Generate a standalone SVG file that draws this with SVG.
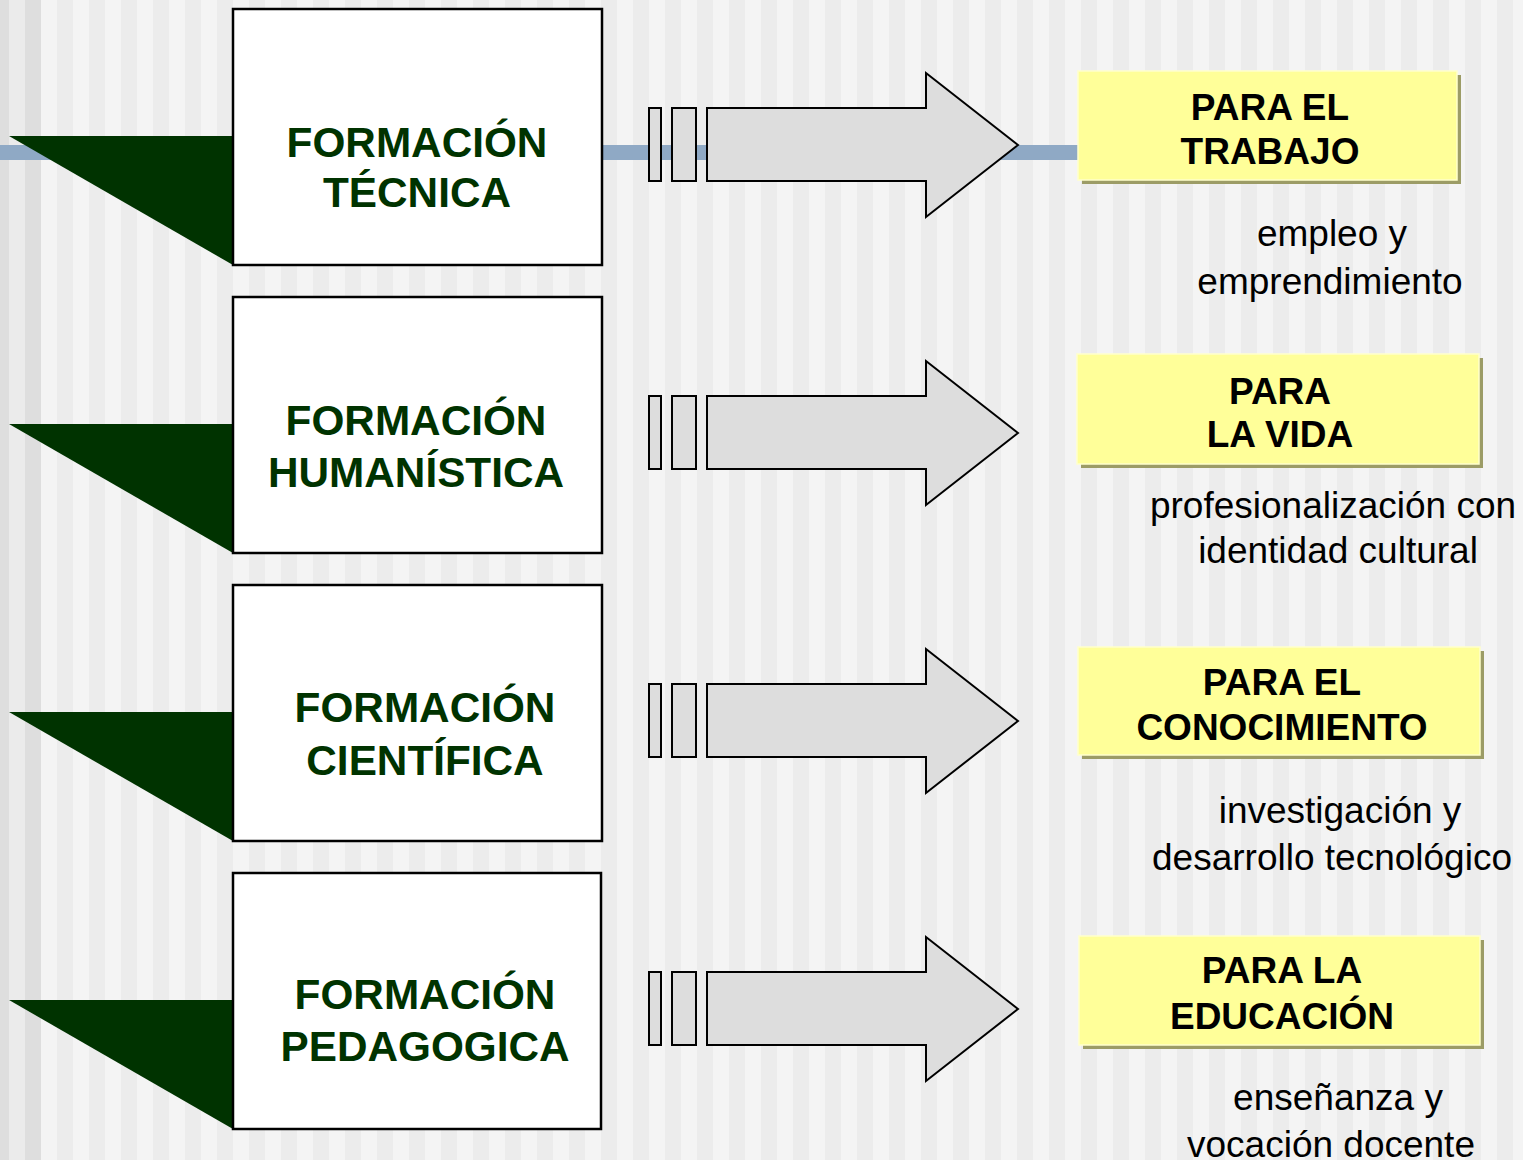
<svg xmlns="http://www.w3.org/2000/svg" width="1523" height="1160" viewBox="0 0 1523 1160">
<defs>
<pattern id="stripes" patternUnits="userSpaceOnUse" x="41" y="0" width="32" height="1160">
<rect x="0" y="0" width="16" height="1160" fill="#f4f4f4"/>
<rect x="16" y="0" width="16" height="1160" fill="#ececec"/>
</pattern>
<style>
.tri{fill:#003300}
.box{fill:#ffffff;stroke:#000000;stroke-width:2.5}
.ftxt{font-family:"Liberation Sans",Arial,sans-serif;font-weight:bold;font-size:42.3px;fill:#003300;text-anchor:middle}
.arr{fill:#dddddd;stroke:#000000;stroke-width:2}
.ybox{fill:#ffff99;stroke:#ffffcc;stroke-width:1.5}
.yshadow{fill:#9c9c66}
.ytxt{font-family:"Liberation Sans",Arial,sans-serif;font-weight:bold;font-size:37px;fill:#000000;text-anchor:middle}
.dtxt{font-family:"Liberation Sans",Arial,sans-serif;font-size:37px;fill:#000000;text-anchor:middle}
</style>
</defs>
<rect x="0" y="0" width="1523" height="1160" fill="url(#stripes)"/>
<rect x="0" y="0" width="9" height="1160" fill="#dedede"/>
<rect x="9" y="0" width="16" height="1160" fill="#ebebeb"/>
<rect x="25" y="0" width="16" height="1160" fill="#dedede"/>

<g id="connectors">
<rect x="0" y="145" width="1080" height="15" fill="#8fa9c5"/>
<g id="arrow1">
<rect class="arr" x="649" y="108" width="12" height="73"/>
<rect class="arr" x="672" y="108" width="24" height="73"/>
<polygon class="arr" points="707,108 926,108 926,73 1018,145 926,217 926,181 707,181"/>
</g>
<g id="arrow2" transform="translate(0,288)">
<rect class="arr" x="649" y="108" width="12" height="73"/>
<rect class="arr" x="672" y="108" width="24" height="73"/>
<polygon class="arr" points="707,108 926,108 926,73 1018,145 926,217 926,181 707,181"/>
</g>
<g id="arrow3" transform="translate(0,576)">
<rect class="arr" x="649" y="108" width="12" height="73"/>
<rect class="arr" x="672" y="108" width="24" height="73"/>
<polygon class="arr" points="707,108 926,108 926,73 1018,145 926,217 926,181 707,181"/>
</g>
<g id="arrow4" transform="translate(0,864)">
<rect class="arr" x="649" y="108" width="12" height="73"/>
<rect class="arr" x="672" y="108" width="24" height="73"/>
<polygon class="arr" points="707,108 926,108 926,73 1018,145 926,217 926,181 707,181"/>
</g>
</g>

<g id="node-tecnica">
<polygon class="tri" points="9,136 233,136 233,265"/>
<rect class="box" x="233" y="9" width="369" height="256"/>
<text class="ftxt" x="417" y="157">FORMACIÓN</text>
<text class="ftxt" x="417" y="207">TÉCNICA</text>
</g>
<g id="node-humanistica">
<polygon class="tri" points="9,424 233,424 233,553"/>
<rect class="box" x="233" y="297" width="369" height="256"/>
<text class="ftxt" x="416" y="435">FORMACIÓN</text>
<text class="ftxt" x="416" y="487">HUMANÍSTICA</text>
</g>
<g id="node-cientifica">
<polygon class="tri" points="9,712 233,712 233,841"/>
<rect class="box" x="233" y="585" width="369" height="256"/>
<text class="ftxt" x="425" y="722">FORMACIÓN</text>
<text class="ftxt" x="425" y="775">CIENTÍFICA</text>
</g>
<g id="node-pedagogica">
<polygon class="tri" points="9,1000 233,1000 233,1129"/>
<rect class="box" x="233" y="873" width="368" height="256"/>
<text class="ftxt" x="425" y="1009">FORMACIÓN</text>
<text class="ftxt" x="425" y="1061">PEDAGOGICA</text>
</g>

<g id="node-trabajo">
<rect class="yshadow" x="1082" y="75" width="379" height="109"/>
<rect class="ybox" x="1078" y="71" width="379" height="109"/>
<text class="ytxt" x="1270" y="120">PARA EL</text>
<text class="ytxt" x="1270" y="164">TRABAJO</text>
<text class="dtxt" x="1332" y="246">empleo y</text>
<text class="dtxt" x="1330" y="294">emprendimiento</text>
</g>
<g id="node-vida">
<rect class="yshadow" x="1081" y="358" width="402" height="110"/>
<rect class="ybox" x="1077" y="354" width="402" height="110"/>
<text class="ytxt" x="1280" y="404">PARA</text>
<text class="ytxt" x="1280" y="447">LA VIDA</text>
<text class="dtxt" x="1333" y="518">profesionalización con</text>
<text class="dtxt" x="1338" y="563">identidad cultural</text>
</g>
<g id="node-conocimiento">
<rect class="yshadow" x="1082" y="651" width="402" height="108"/>
<rect class="ybox" x="1078" y="647" width="402" height="108"/>
<text class="ytxt" x="1282" y="695">PARA EL</text>
<text class="ytxt" x="1282" y="740">CONOCIMIENTO</text>
<text class="dtxt" x="1340" y="823">investigación y</text>
<text class="dtxt" x="1332" y="870">desarrollo tecnológico</text>
</g>
<g id="node-educacion">
<rect class="yshadow" x="1083" y="940" width="401" height="109"/>
<rect class="ybox" x="1079" y="936" width="401" height="109"/>
<text class="ytxt" x="1282" y="983">PARA LA</text>
<text class="ytxt" x="1282" y="1029">EDUCACIÓN</text>
<text class="dtxt" x="1338" y="1110">enseñanza y</text>
<text class="dtxt" x="1331" y="1157">vocación docente</text>
</g>
</svg>
